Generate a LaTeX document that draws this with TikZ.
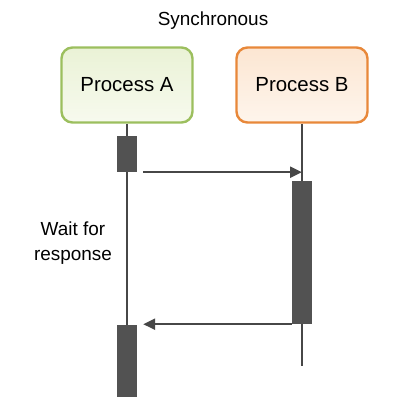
\documentclass[tikz,border=0pt]{standalone}
\usepackage{fontspec}
\setmainfont{Liberation Sans}
\usetikzlibrary{arrows.meta,calc}
\pgfdeclarelayer{back}
\pgfsetlayers{back,main}
\definecolor{lineC}{HTML}{474747}
\definecolor{barC}{HTML}{525252}
\definecolor{greenB}{HTML}{9CBF5E}
\definecolor{greenT}{HTML}{EAF2D6}
\definecolor{greenL}{HTML}{F7FAEE}
\definecolor{orangeB}{HTML}{E8883A}
\definecolor{orangeT}{HTML}{FCE6D2}
\definecolor{orangeL}{HTML}{FEF5EC}
\tikzset{
  procbox/.style={rounded corners=11bp, line width=2.4bp, minimum width=131bp, minimum height=75bp,
    font=\fontsize{20.5}{24}\selectfont, text=black},
  actbar/.style={fill=barC, draw=none, minimum width=20bp, inner sep=0pt},
  lifeline/.style={draw=lineC, line width=2bp},
  msg/.style={draw=lineC, line width=2.2bp, -{Triangle[length=12bp,width=11bp]}},
  lbl/.style={font=\fontsize{19}{25}\selectfont, text=black, align=center, inner sep=0pt}
}
\begin{document}
\begin{tikzpicture}[x=1bp,y=-1bp]
\useasboundingbox (0,0) rectangle (419,418);
\begin{pgfonlayer}{back}
\fill[white] (0,0) rectangle (419,418);
\end{pgfonlayer}
\node[lbl] (title) at (213,21) {Synchronous};
\node[procbox, draw=greenB, top color=greenT, bottom color=greenL] (pa) at (127,85) {Process A};
\node[procbox, draw=orangeB, top color=orangeT, bottom color=orangeL] (pb) at (302,85) {Process B};
\coordinate (endB) at (302,366);
\node[actbar, minimum height=36bp] (a1) at (127,154) {};
\node[actbar, minimum height=143bp] (b1) at (302,252.5) {};
\node[actbar, minimum height=72bp] (a2) at (127,361) {};
\begin{pgfonlayer}{back}
\draw[lifeline] (pa.south) -- (a2.north);
\draw[lifeline] (pb.south) -- (endB);
\end{pgfonlayer}
\draw[msg] ($(a1.south east)+(6,0)$) -- (a1.south east -| pb.south);
\draw[msg] (b1.south west) -- ($(b1.south west -| a2.east)+(6,0)$);
\node[lbl] (wait) at (73,243) {Wait for\\response};
\end{tikzpicture}
\end{document}
